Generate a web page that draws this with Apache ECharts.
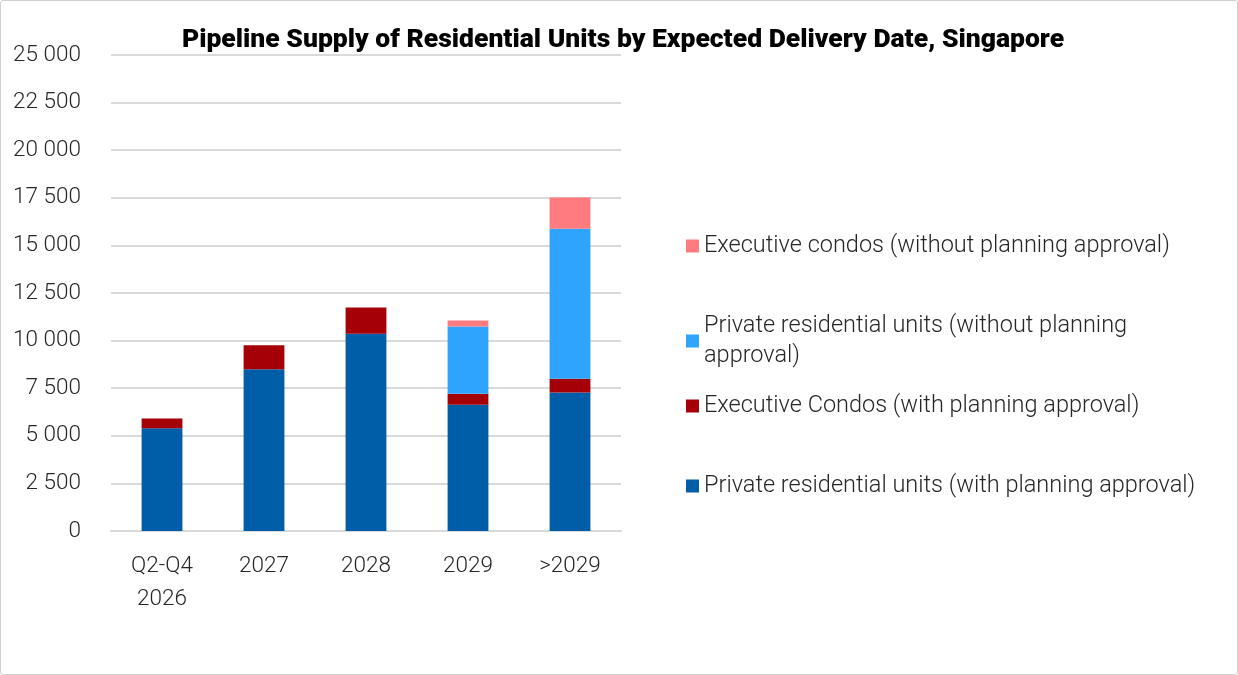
<!DOCTYPE html>
<html>
<head>
<meta charset="utf-8">
<script src="https://cdn.jsdelivr.net/npm/echarts@6/dist/echarts.min.js"></script>
<style>
    html, body { margin: 0; padding: 0; background: #fff; }
    #chart { width: 1236px; height: 673px; border: 1px solid #d0d0d0; border-radius: 3px; }
</style>
</head>
<body>
<div id="chart"></div>
<script>
const categories = ['Q2-Q4\n2026', '2027', '2028', '2029', '>2029']
const privateWith = [5390, 8490, 10360, 6630, 7280]
const ecWith = [525, 1260, 1380, 580, 720]
const privateWithout = [0, 0, 0, 3530, 7870]
const ecWithout = [0, 0, 0, 315, 1640]
const yTicks = { min: 0, max: 25000, interval: 2500 }

const names = [
    'Private residential units (with planning approval)',
    'Executive Condos (with planning approval)',
    'Private residential units (without planning\napproval)',
    'Executive condos (without planning approval)',
]
const colors = ['#005EA8', '#A50008', '#2EA4FF', '#FF7B7F']
const values = [privateWith, ecWith, privateWithout, ecWithout]

// 千位空格分隔
function fmt(v) {
    return String(v).replace(/\B(?=(\d{3})+(?!\d))/g, ' ')
}

const textColor = '#262626'
const font = 'Roboto'

// 图例位置（从上到下）
const legendTops = [465, 385, 305, 225]

let option = {
    animation: false,
    title: {
        text: 'Pipeline Supply of Residential Units by Expected Delivery Date, Singapore',
        left: 617,
        textAlign: 'center',
        top: 21,
        textStyle: { fontFamily: font, fontSize: 26.5, fontWeight: 900, color: '#000' },
    },
    grid: { left: 110, right: 616, top: 54, bottom: 143 },
    legend: names.map((n, i) => ({
        data: [n],
        left: 680,
        top: legendTops[i],
        orient: 'vertical',
        itemWidth: 13,
        itemHeight: 13,
        itemGap: 0,
        icon: 'rect',
        textStyle: { fontFamily: font, fontSize: 23.5, fontWeight: 300, color: textColor, lineHeight: 30 },
    })),
    xAxis: {
        type: 'category',
        data: categories,
        axisTick: { show: false },
        axisLine: { lineStyle: { color: '#d9d9d9', width: 2 } },
        axisLabel: { fontFamily: font, fontSize: 22.5, fontWeight: 300, color: textColor, margin: 19, lineHeight: 33 },
    },
    yAxis: {
        type: 'value',
        min: yTicks.min,
        max: yTicks.max,
        interval: yTicks.interval,
        splitLine: { lineStyle: { color: '#d9d9d9', width: 2 } },
        axisLabel: {
            fontFamily: font, fontSize: 22.5, fontWeight: 300, color: textColor, margin: 30,
            formatter: fmt,
        },
    },
    series: values.map((d, i) => ({
        type: 'bar',
        name: names[i],
        stack: 'total',
        barWidth: '40%',
        itemStyle: { color: colors[i] },
        data: d,
    })),
}

let myChart = echarts.init(document.getElementById('chart'))
myChart.setOption(option)
</script>
</body>
</html>
